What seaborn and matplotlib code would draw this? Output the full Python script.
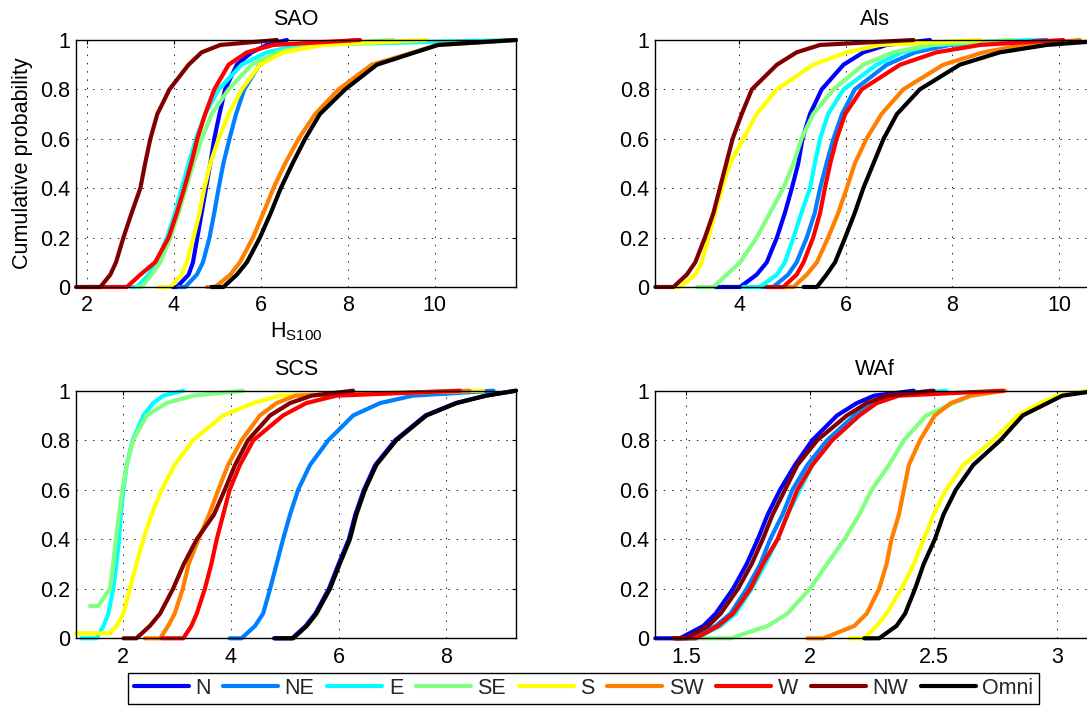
import numpy as np
import pandas as pd
import matplotlib
matplotlib.use("Agg")
import matplotlib.pyplot as plt
import seaborn as sns
from matplotlib.lines import Line2D
from matplotlib.ticker import FuncFormatter

# Wave directions and their colours (jet palette, 8 sectors + omni)
DIRECTIONS = ["N", "NE", "E", "SE", "S", "SW", "W", "NW", "Omni"]
COLORS = ["#0000FF", "#0080FF", "#00FFFF", "#80FF80", "#FFFF00",
          "#FF8000", "#FF0000", "#800000", "#000000"]

# Cumulative probability levels; each series below lists H_S100 at these levels
LEVELS = [0, 0, 0.05, 0.1, 0.2, 0.3, 0.4, 0.5, 0.6, 0.7, 0.8, 0.9, 0.95, 0.98, 1.0]

SAO = {
    "N":    [3.92, 4.07, 4.34, 4.44, 4.54, 4.64, 4.74, 4.84, 4.93, 5.05, 5.18, 5.45, 5.79, 6.14, 6.60],
    "NE":   [4.11, 4.26, 4.53, 4.67, 4.82, 4.93, 5.03, 5.14, 5.28, 5.43, 5.62, 5.97, 6.37, 6.98, 8.28],
    "E":    [3.03, 3.15, 3.42, 3.61, 3.84, 4.03, 4.18, 4.34, 4.51, 4.72, 5.03, 5.56, 6.14, 6.90, 11.87],
    "SE":   [3.15, 3.26, 3.49, 3.69, 3.92, 4.11, 4.28, 4.45, 4.64, 4.87, 5.26, 5.79, 6.37, 7.21, 9.05],
    "S":    [3.65, 3.92, 4.18, 4.30, 4.45, 4.59, 4.70, 4.84, 5.03, 5.26, 5.56, 5.98, 6.52, 7.44, 9.82],
    "SW":   [4.76, 4.95, 5.30, 5.52, 5.82, 6.06, 6.29, 6.56, 6.87, 7.25, 7.79, 8.55, 9.51, 10.05, 11.87],
    "W":    [1.90, 2.92, 3.23, 3.57, 3.88, 4.07, 4.24, 4.40, 4.54, 4.72, 4.93, 5.26, 5.68, 6.29, 8.28],
    "NW":   [1.75, 2.31, 2.54, 2.67, 2.84, 3.03, 3.23, 3.34, 3.46, 3.62, 3.90, 4.34, 4.64, 5.07, 6.37],
    "Omni": [4.87, 5.14, 5.45, 5.68, 5.98, 6.23, 6.46, 6.73, 7.02, 7.36, 7.94, 8.67, 9.55, 10.08, 11.87],
}

ALS = {
    "N":    [3.52, 4.02, 4.33, 4.52, 4.71, 4.86, 4.99, 5.11, 5.19, 5.33, 5.55, 5.96, 6.33, 6.77, 7.58],
    "NE":   [4.33, 4.64, 4.92, 5.08, 5.27, 5.42, 5.52, 5.64, 5.77, 5.93, 6.17, 6.77, 7.30, 7.95, 9.77],
    "E":    [4.08, 4.39, 4.71, 4.86, 5.02, 5.17, 5.33, 5.42, 5.52, 5.67, 5.96, 6.58, 7.05, 7.65, 9.45],
    "SE":   [3.21, 3.52, 3.77, 4.02, 4.33, 4.58, 4.83, 5.02, 5.17, 5.39, 5.77, 6.33, 6.89, 7.58, 9.14],
    "S":    [2.80, 2.89, 3.18, 3.30, 3.43, 3.55, 3.68, 3.83, 4.08, 4.33, 4.71, 5.39, 6.02, 6.64, 8.52],
    "SW":   [4.77, 5.02, 5.27, 5.46, 5.67, 5.86, 6.02, 6.17, 6.39, 6.67, 7.08, 7.83, 8.58, 9.33, 10.39],
    "W":    [4.52, 4.83, 5.08, 5.21, 5.39, 5.52, 5.61, 5.71, 5.83, 5.99, 6.30, 7.02, 7.70, 8.52, 10.08],
    "NW":   [2.43, 2.77, 3.02, 3.18, 3.36, 3.52, 3.64, 3.76, 3.88, 4.05, 4.24, 4.71, 5.08, 5.52, 7.27],
    "Omni": [5.21, 5.46, 5.64, 5.80, 5.99, 6.17, 6.33, 6.52, 6.71, 6.96, 7.39, 8.14, 8.89, 9.77, 11.00],
}

SCS = {
    "N":    [4.80, 5.14, 5.39, 5.57, 5.82, 6.00, 6.19, 6.31, 6.47, 6.68, 7.05, 7.61, 8.17, 8.72, 9.29],
    "NE":   [3.98, 4.20, 4.45, 4.60, 4.73, 4.85, 4.97, 5.10, 5.25, 5.47, 5.81, 6.27, 6.77, 7.38, 8.87],
    "E":    [1.23, 1.51, 1.64, 1.73, 1.82, 1.88, 1.93, 1.96, 2.01, 2.07, 2.18, 2.38, 2.56, 2.75, 3.12],
    "SE":   [1.39, 1.45, 1.50, 1.54, 1.76, 1.82, 1.87, 1.93, 1.99, 2.07, 2.19, 2.44, 2.81, 3.30, 4.23],
    "S":    [1.13, 1.76, 1.88, 2.01, 2.13, 2.25, 2.38, 2.53, 2.72, 2.96, 3.30, 3.86, 4.42, 4.91, 8.68],
    "SW":   [2.41, 2.69, 2.84, 2.96, 3.11, 3.22, 3.40, 3.60, 3.77, 3.95, 4.20, 4.54, 4.85, 5.20, 8.43],
    "W":    [2.72, 3.12, 3.27, 3.37, 3.52, 3.64, 3.74, 3.86, 3.98, 4.17, 4.42, 4.97, 5.40, 5.96, 8.25],
    "NW":   [2.01, 2.25, 2.50, 2.69, 2.93, 3.13, 3.37, 3.69, 3.89, 4.08, 4.32, 4.73, 5.10, 5.50, 6.27],
    "Omni": [4.82, 5.16, 5.41, 5.59, 5.84, 6.02, 6.21, 6.33, 6.49, 6.70, 7.07, 7.63, 8.19, 8.74, 9.29],
}
# lowest probability reached by series that start with a jump
SCS_FLOOR = {"SE": 0.13, "S": 0.02}

WAF = {
    "N":    [1.376, 1.476, 1.57, 1.62, 1.69, 1.745, 1.79, 1.83, 1.88, 1.94, 2.01, 2.11, 2.19, 2.26, 2.42],
    "NE":   [1.46, 1.53, 1.62, 1.68, 1.745, 1.80, 1.84, 1.89, 1.93, 1.99, 2.07, 2.18, 2.26, 2.32, 2.49],
    "E":    [1.476, 1.54, 1.64, 1.70, 1.765, 1.82, 1.87, 1.91, 1.96, 2.01, 2.09, 2.20, 2.27, 2.35, 2.55],
    "SE":   [1.54, 1.68, 1.83, 1.91, 2.00, 2.07, 2.14, 2.20, 2.25, 2.32, 2.38, 2.47, 2.58, 2.65, 2.75],
    "S":    [2.16, 2.22, 2.27, 2.31, 2.37, 2.42, 2.46, 2.50, 2.55, 2.62, 2.74, 2.84, 2.93, 3.00, 3.12],
    "SW":   [1.99, 2.055, 2.18, 2.23, 2.28, 2.31, 2.33, 2.36, 2.38, 2.40, 2.445, 2.505, 2.57, 2.65, 2.79],
    "W":    [1.46, 1.54, 1.63, 1.69, 1.76, 1.81, 1.87, 1.91, 1.95, 2.01, 2.09, 2.20, 2.27, 2.36, 2.78],
    "NW":   [1.45, 1.50, 1.59, 1.64, 1.71, 1.765, 1.81, 1.85, 1.90, 1.95, 2.03, 2.15, 2.23, 2.31, 2.50],
    "Omni": [2.22, 2.28, 2.35, 2.385, 2.425, 2.46, 2.505, 2.54, 2.59, 2.66, 2.77, 2.86, 2.96, 3.02, 3.16],
}

PANEL_TITLES = ["SAO", "Als", "SCS", "WAf"]
PANEL_DATA = [SAO, ALS, SCS, WAF]
PANEL_FLOORS = [{}, {}, SCS_FLOOR, {}]
PANEL_XLIMS = [(1.75, 11.87), (2.43, 10.68), (1.13, 9.29), (1.376, 3.153)]
PANEL_XTICKS = [[2, 4, 6, 8, 10], [4, 6, 8, 10], [2, 4, 6, 8], [1.5, 2, 2.5, 3]]
Y_TICKS = [0, 0.2, 0.4, 0.6, 0.8, 1]

FS = 15.5

sns.set_theme(style="white")
plt.rcParams["font.family"] = ["Liberation Sans", "DejaVu Sans"]
plt.rcParams["mathtext.fontset"] = "custom"
plt.rcParams["mathtext.rm"] = "Liberation Sans"

W, H = 1087, 709
fig = plt.figure(figsize=(W / 100, H / 100), dpi=100)
fig.patch.set_facecolor("white")

# axes boxes in pixels: left, top, width, height
boxes = [(76, 40, 440, 247), (655.3, 40, 440, 247),
         (76, 390.7, 440, 247.6), (655.3, 390.7, 440, 247.6)]

fmt = FuncFormatter(lambda v, _: f"{v:g}")
palette = dict(zip(DIRECTIONS, COLORS))

for i, (title, data, floor, xlim, xticks) in enumerate(
        zip(PANEL_TITLES, PANEL_DATA, PANEL_FLOORS, PANEL_XLIMS, PANEL_XTICKS)):
    l, t, w, h = boxes[i]
    ax = fig.add_axes([l / W, 1 - (t + h) / H, w / W, h / H])

    frames = []
    for d in DIRECTIONS:
        p = np.maximum(np.array(LEVELS, dtype=float), floor.get(d, 0.0))
        frames.append(pd.DataFrame({"hs": data[d], "prob": p, "dir": d}))
    df = pd.concat(frames, ignore_index=True)

    sns.lineplot(data=df, x="hs", y="prob", hue="dir", hue_order=DIRECTIONS,
                 palette=palette, sort=False, estimator=None, linewidth=3.0,
                 legend=False, ax=ax, clip_on=False)

    ax.set_xlim(*xlim)
    ax.set_ylim(0, 1)
    ax.set_xticks(xticks)
    ax.set_yticks(Y_TICKS)
    ax.xaxis.set_major_formatter(fmt)
    ax.yaxis.set_major_formatter(fmt)
    ax.grid(True, color="#222222", linestyle=(0, (1.5, 7)), linewidth=0.7)
    ax.set_axisbelow(True)
    for s in ax.spines.values():
        s.set_color("black")
        s.set_linewidth(1.0)
        s.set_visible(True)
    ax.tick_params(axis="both", direction="in", length=3, width=0.8,
                   labelsize=FS, colors="black", top=True, right=True)
    ax.tick_params(axis="x", pad=6)
    ax.tick_params(axis="y", pad=4)
    ax.set_title(title, fontsize=FS, pad=11, color="black")
    ax.set_xlabel("")
    ax.set_ylabel("")
    if i == 0:
        ax.set_ylabel("Cumulative probability", fontsize=FS, labelpad=5, color="black")
        ax.set_xlabel(r"H$_{\mathregular{S100}}$", fontsize=FS, labelpad=3, color="black")

handles = [Line2D([0], [0], color=c, lw=3.0) for c in COLORS]
leg = fig.legend(handles, DIRECTIONS, loc="center", ncol=9,
                 bbox_to_anchor=(583.5 / W, 1 - 688.5 / H), fontsize=FS,
                 handlelength=2.55, handletextpad=0.3, columnspacing=0.6,
                 borderpad=0.25, frameon=True, fancybox=False, framealpha=1)
leg.get_frame().set_edgecolor("black")
leg.get_frame().set_linewidth(1.0)

fig.savefig("out.png", dpi=100, facecolor="white")
